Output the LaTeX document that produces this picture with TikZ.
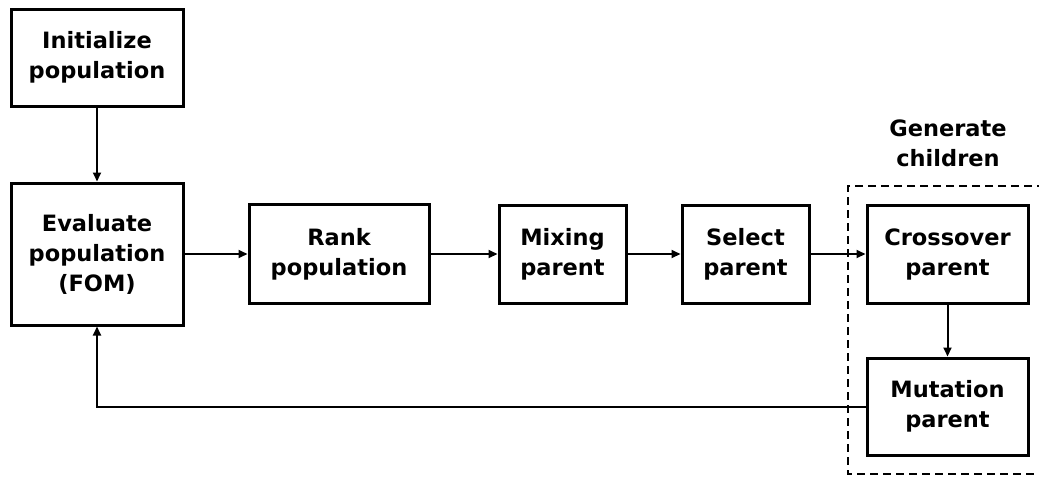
\documentclass[tikz,border=0pt]{standalone}
\usepackage{fontspec}
\setmainfont{DejaVu Sans}
\usetikzlibrary{arrows.meta}

\begin{document}
\begin{tikzpicture}[x=1pt,y=-1pt,
  blk/.style={draw, line width=3pt, align=center, inner sep=0pt,
    font=\fontsize{22.5}{30}\selectfont\bfseries},
  flow/.style={line width=2pt, -{Triangle[length=9pt,width=8pt]}}]
\useasboundingbox (0,0) rectangle (1039,477);

\node[blk, minimum width=172pt, minimum height=97pt] (init) at (97,57.5) {Initialize\\population};
\node[blk, minimum width=172pt, minimum height=142pt] (eval) at (97,254) {Evaluate\\population\\(FOM)};
\node[blk, minimum width=180pt, minimum height=99pt] (rank) at (339,254) {Rank\\population};
\node[blk, minimum width=127pt, minimum height=98pt] (mix) at (562.5,254) {Mixing\\parent};
\node[blk, minimum width=127pt, minimum height=98pt] (sel) at (745.5,254) {Select\\parent};
\node[blk, minimum width=161pt, minimum height=98pt] (cross) at (947.5,254) {Crossover\\parent};
\node[blk, minimum width=161pt, minimum height=97pt] (mut) at (947.5,406.5) {Mutation\\parent};

% children group, cut off at the right
\draw[line width=2.5pt, dash pattern=on 8pt off 5pt] (1045,186) -- (848,186) -- (848,474) -- (1045,474);
\node[blk, draw=none] (gen) at (948,143) {Generate\\children};

\draw[flow] (init) -- (eval);
\draw[flow] (eval) -- (rank);
\draw[flow] (rank) -- (mix);
\draw[flow] (mix) -- (sel);
\draw[flow] (sel) -- (cross);
\draw[flow] (cross) -- (mut);
\draw[flow] (mut.west) -| (eval.south);
\end{tikzpicture}
\end{document}
